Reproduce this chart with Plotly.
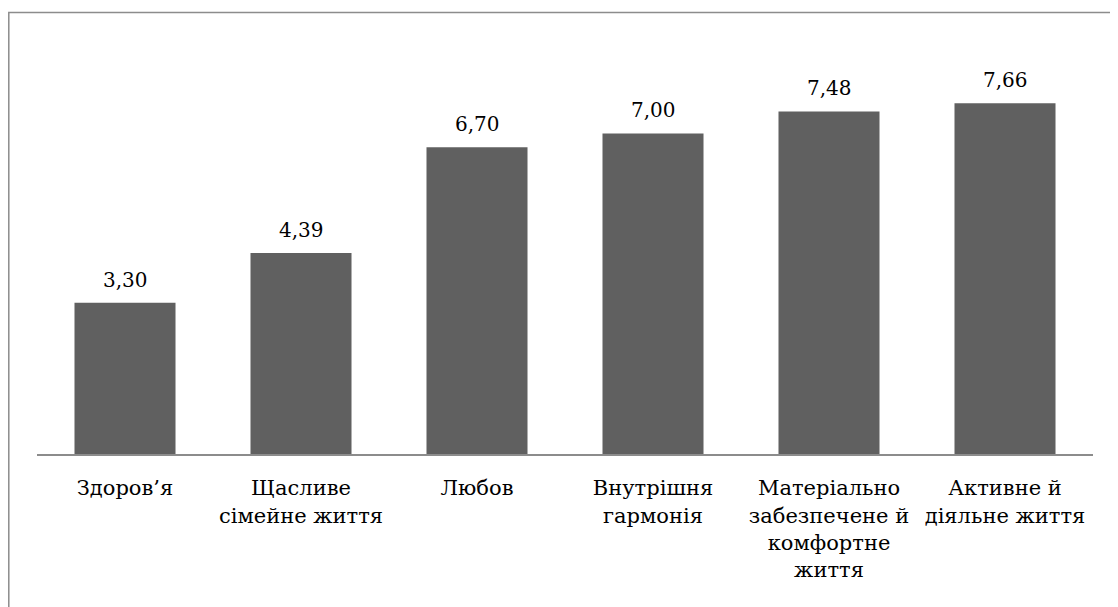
import plotly.graph_objects as go

categories = ["Здоров’я", "Щасливе<br>сімейне життя", "Любов", "Внутрішня<br>гармонія",
              "Матеріально<br>забезпечене й<br>комфортне<br>життя", "Активне й<br>діяльне життя"]
values = [3.30, 4.39, 6.70, 7.00, 7.48, 7.66]
value_labels = [f"{v:.2f}".replace(".", ",") for v in values]

FONT = "DejaVu Serif"
OFF = 8  # page body margin
W, H = 1118 - OFF, 607 - OFF
L, R, T, B = 37 - OFF, 25, 37 - OFF, 153
pw, ph = W - L - R, H - T - B

fig = go.Figure(go.Bar(x=categories, y=values, marker=dict(color="#606060", line=dict(width=0)),
                       hoverinfo="skip"))

for c, v, t in zip(categories, values, value_labels):
    fig.add_annotation(x=c, y=v, text=t, showarrow=False, yanchor="bottom", yshift=9,
                       font=dict(family=FONT, size=20, color="#000000"))

def px_x(p):
    return (p - OFF - L) / pw

def px_y(p):
    return (H - B - (p - OFF)) / ph

fig.add_shape(type="rect", xref="paper", yref="paper",
              x0=px_x(8.8), x1=px_x(1130), y0=px_y(620), y1=px_y(12.5),
              line=dict(color="#8c8c8c", width=1.5), fillcolor="rgba(0,0,0,0)", layer="below")

fig.update_layout(
    width=W, height=H, margin=dict(l=L, r=R, t=T, b=B, pad=0),
    paper_bgcolor="white", plot_bgcolor="white",
    bargap=0.426, showlegend=False,
    font=dict(family=FONT, size=21, color="#000000"),
    xaxis=dict(showline=True, linecolor="#8c8c8c", linewidth=2, showgrid=False,
               ticks="outside", ticklen=14, tickcolor="rgba(0,0,0,0)", tickangle=0,
               tickfont=dict(family=FONT, size=21, color="#000000")),
    yaxis=dict(visible=False, range=[0, ph / 45.8], fixedrange=True),
)

fig.write_html("out.html")
